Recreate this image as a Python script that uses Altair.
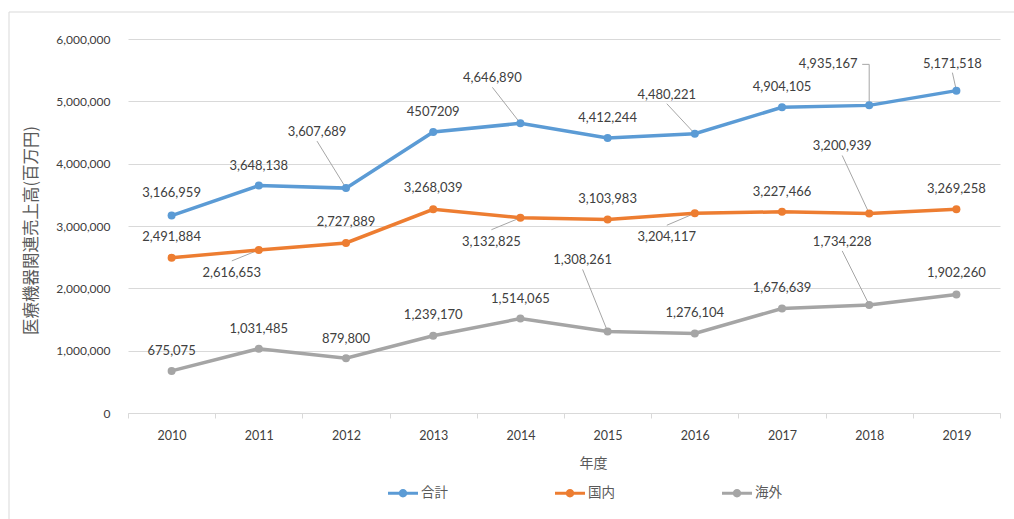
import altair as alt
import pandas as pd

# ---------------- data ----------------
years = [2010, 2011, 2012, 2013, 2014, 2015, 2016, 2017, 2018, 2019]
series_names = ["合計", "国内", "海外"]
total = [3166959, 3648138, 3607689, 4507209, 4646890, 4412244, 4480221, 4904105, 4935167, 5171518]
domestic = [2491884, 2616653, 2727889, 3268039, 3132825, 3103983, 3204117, 3227466, 3200939, 3269258]
overseas = [675075, 1031485, 879800, 1239170, 1514065, 1308261, 1276104, 1676639, 1734228, 1902260]
plain_label_years_total = [2013]  # label shown without thousands separators
y_ticks = [0, 1000000, 2000000, 3000000, 4000000, 5000000, 6000000]
colors = ["#5B9BD5", "#ED7D31", "#A5A5A5"]

# ---------------- layout / style ----------------
W, H = 872, 374
YMAX = 6000000
px_per_year = W / 10.0
val_per_px = YMAX / H

# data-label placement, pixels relative to the point (dx, dy)
label_offsets = {
    "合計": [(0, -23), (0, -20), (-29, -56), (0, -20), (-28, -45), (0, -20), (-28, -39), (0, -20), (-41, -41), (-4, -27)],
    "国内": [(0, -21), (-27, 23), (0, -21), (0, -21), (-29, 24), (0, -21), (-28, 24), (0, -20), (-27, -67), (0, -20)],
    "海外": [(0, -20), (0, -20), (0, -19), (0, -21), (0, -20), (-25, -71), (0, -20), (0, -20), (-27, -63), (0, -21)],
}
elbow_leaders = {("合計", 2018): 34}

values_by_series = {"合計": total, "国内": domestic, "海外": overseas}

rows, leaders = [], []
for s in series_names:
    for i, (yr, v) in enumerate(zip(years, values_by_series[s])):
        dx, dy = label_offsets[s][i]
        lab = str(v) if (s == "合計" and yr in plain_label_years_total) else f"{v:,}"
        lx = yr + dx / px_per_year
        ly = v - dy * val_per_px
        rows.append({"year": yr, "series": s, "value": v, "label": lab, "lx": lx, "ly": ly})
        if dx != 0:
            if (s, yr) in elbow_leaders:
                sx = lx + elbow_leaders[(s, yr)] / px_per_year
                leaders.append({"x": sx, "y": ly, "x2": yr, "y2": ly})
                leaders.append({"x": yr, "y": ly, "x2": yr, "y2": v})
            else:
                sy = ly - 9 * val_per_px if dy < 0 else ly + 12 * val_per_px
                leaders.append({"x": lx, "y": sy, "x2": yr, "y2": v})

df = pd.DataFrame(rows)
ldf = pd.DataFrame(leaders)

x_scale = alt.Scale(domain=[2009.5, 2019.5], nice=False, zero=False)
y_scale = alt.Scale(domain=[0, YMAX], nice=False, zero=True)
color_scale = alt.Scale(domain=series_names, range=colors)

grid_c = "#d9d9d9"
text_c = "#595959"
num_font = "Lato"
cjk_font = "Noto Sans CJK JP"

x_axis = alt.Axis(
    values=[2009.5 + i for i in range(11)],
    labelExpr="datum.value < 2019 ? format(datum.value + 0.5, 'd') : ''",
    labelOffset=W / 20.0, labelFlush=False, labelOverlap=False,
    labelFont=num_font, labelFontSize=12.5, labelColor="#404040", labelPadding=11,
    tickSize=5, tickColor=grid_c, domainColor=grid_c, grid=False,
    title="年度", titleFont=cjk_font, titleFontSize=14, titleFontWeight="normal",
    titleColor=text_c, titleX=465, titleY=50, titleAlign="center", titleBaseline="middle",
)
y_axis = alt.Axis(
    values=y_ticks, format=",d", domain=False, ticks=False, tickSize=0,
    labelFont=num_font, labelFontSize=12, labelColor="#404040", labelPadding=18,
    grid=True, gridColor=grid_c, gridWidth=1,
    title="医療機器関連売上高(百万円)", titleFont=cjk_font, titleFontSize=16.5,
    titleFontWeight="normal", titleColor=text_c, titleAngle=270,
    titleX=-97, titleY=191, titleAlign="center", titleBaseline="middle",
)

legend_symbol = ("M-1,-0.1L1,-0.1L1,0.1L-1,0.1Z "
                 "M-0.28,0A0.28,0.28 0 1 1 0.28,0A0.28,0.28 0 1 1 -0.28,0Z")
legend = alt.Legend(
    orient="none", legendX=260, legendY=439, direction="horizontal", title=None,
    symbolType=legend_symbol, symbolSize=900, symbolStrokeWidth=0, symbolOpacity=1,
    labelFont=cjk_font, labelFontSize=13.5, labelColor=text_c, labelOffset=3,
    columnPadding=107,
)

frame = alt.Chart(pd.DataFrame({"a": [0]})).mark_rect(
    fill=None, stroke=grid_c, strokeWidth=1
).encode(x=alt.value(-119), x2=alt.value(892), y=alt.value(-27), y2=alt.value(491))

leader_layer = alt.Chart(ldf).mark_rule(color="#a6a6a6", strokeWidth=1).encode(
    x=alt.X("x:Q", scale=x_scale, axis=x_axis),
    y=alt.Y("y:Q", scale=y_scale, axis=y_axis),
    x2="x2:Q", y2="y2:Q",
)

lines = alt.Chart(df).mark_line(strokeWidth=3.5).encode(
    x=alt.X("year:Q", scale=x_scale, axis=x_axis),
    y=alt.Y("value:Q", scale=y_scale, axis=y_axis),
    color=alt.Color("series:N", scale=color_scale, legend=legend, sort=series_names),
    detail="series:N",
)

points = alt.Chart(df).mark_point(filled=True, size=64, opacity=1).encode(
    x=alt.X("year:Q", scale=x_scale, axis=x_axis),
    y=alt.Y("value:Q", scale=y_scale, axis=y_axis),
    color=alt.Color("series:N", scale=color_scale, legend=legend, sort=series_names),
)

labels = alt.Chart(df).mark_text(
    font=num_font, fontSize=13, color="#404040", align="center", baseline="middle"
).encode(
    x=alt.X("lx:Q", scale=x_scale, axis=x_axis),
    y=alt.Y("ly:Q", scale=y_scale, axis=y_axis),
    text="label:N",
)

chart = alt.layer(frame, leader_layer, lines, points, labels).properties(
    width=W, height=H,
    padding={"left": 128, "top": 39, "right": 14, "bottom": 106},
    autosize=alt.AutoSizeParams(type="none"),
    background="white",
).configure_view(stroke=None).configure_legend(
    symbolType=legend_symbol, symbolSize=900, symbolStrokeWidth=0,
)

chart.save("out.html", embed_options={"renderer": "svg", "actions": False})
